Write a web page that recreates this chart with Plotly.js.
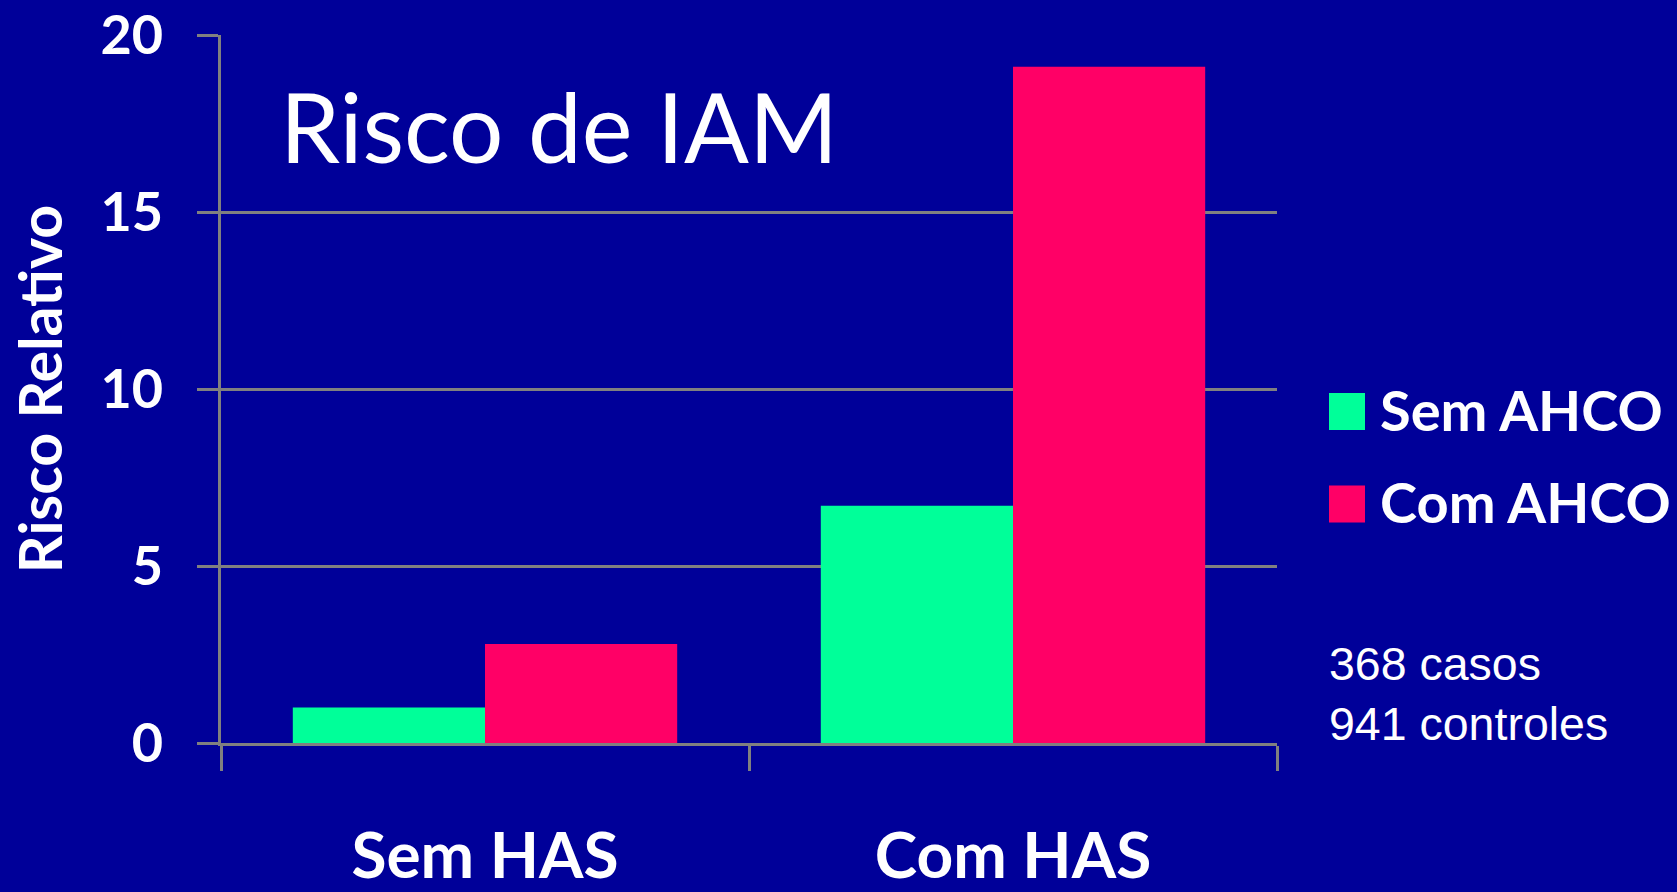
<!DOCTYPE html>
<html>
<head>
<meta charset="utf-8">
<script src="https://cdn.plot.ly/plotly-3.0.1.min.js"></script>
<style>
  html, body { margin: 0; padding: 0; background: #000099; }
  #chart { width: 1677px; height: 892px; }
</style>
</head>
<body>
<div id="chart"></div>
<script>
// ---- data ----
const categories = ['Sem HAS', 'Com HAS'];
const seriesNames = ['Sem AHCO', 'Com AHCO'];
const semAHCO = [1.0, 6.7];
const comAHCO = [2.8, 19.1];
const yTickValues = [0, 5, 10, 15, 20];
const chartTitle = 'Risco de IAM';
const yTitle = 'Risco Relativo';
const noteLines = ['368 casos', '941 controles'];

// ---- style ----
const BG = '#000099';
const GREEN = '#00FF99';
const PINK = '#FF0066';
const GRID = '#808080';
const LW = 3;
const seriesColors = [GREEN, PINK];

const traces = [
  {
    type: 'bar', name: seriesNames[0], x: categories, y: semAHCO,
    marker: { color: seriesColors[0], line: { width: 0 } },
    showlegend: false, hoverinfo: 'x+y'
  },
  {
    type: 'bar', name: seriesNames[1], x: categories, y: comAHCO,
    marker: { color: seriesColors[1], line: { width: 0 } },
    showlegend: false, hoverinfo: 'x+y'
  }
];

// plot area in px
const L = 221, R = 1277, T = 35, B = 743;
const W = R - L, H = B - T;
const px = x => (x - L) / W;
const py = y => (B - y) / H;

const shapes = [];
const annotations = [];

// title
annotations.push({
  text: chartTitle, xref: 'paper', yref: 'paper',
  x: px(278), y: py(66), xanchor: 'left', yanchor: 'top', showarrow: false,
  font: { family: 'Lato', size: 96, color: '#FFFFFF' }
});

// legend (manual, large swatches)
const legendRows = [411.5, 504];
seriesNames.forEach((name, i) => {
  const cy = legendRows[i];
  shapes.push({
    type: 'rect', xref: 'paper', yref: 'paper',
    x0: px(1329), x1: px(1365), y0: py(cy - 18.5), y1: py(cy + 18.5),
    fillcolor: seriesColors[i], line: { width: 0 }
  });
  annotations.push({
    text: '<b>' + name + '</b>', xref: 'paper', yref: 'paper',
    x: px(1378), y: py(cy - 2), xanchor: 'left', yanchor: 'middle', showarrow: false,
    font: { family: 'Lato', size: 56, color: '#FFFFFF' }
  });
});

// note
annotations.push({
  text: noteLines.join('<br>'), xref: 'paper', yref: 'paper',
  x: px(1327), y: py(636), xanchor: 'left', yanchor: 'top', align: 'left', showarrow: false,
  font: { family: 'Liberation Sans', size: 46.5, color: '#FFFFFF' }
});

const layout = {
  width: 1677, height: 892,
  paper_bgcolor: BG, plot_bgcolor: BG,
  margin: { l: L, r: 1677 - R, t: T, b: 892 - B, pad: 0 },
  barmode: 'group', bargap: 0.272, bargroupgap: 0,
  showlegend: false,
  xaxis: {
    type: 'category', range: [-0.5, 1.5], fixedrange: true,
    showgrid: false, zeroline: false,
    showline: true, linecolor: GRID, linewidth: LW,
    tickson: 'boundaries',
    ticks: 'outside', ticklen: 25, tickwidth: LW, tickcolor: GRID,
    ticklabelstandoff: 55,
    tickfont: { family: 'Lato', size: 64, color: '#FFFFFF', weight: 'bold' }
  },
  yaxis: {
    range: [0, 20], fixedrange: true,
    tickmode: 'array', tickvals: yTickValues,
    showgrid: true, gridcolor: GRID, gridwidth: LW,
    zeroline: false,
    showline: true, linecolor: GRID, linewidth: LW,
    ticks: 'outside', ticklen: 21, tickwidth: LW, tickcolor: GRID,
    ticklabelstandoff: 23,
    tickfont: { family: 'Lato', size: 54, color: '#FFFFFF', weight: 'bold' },
    title: {
      text: '<b>' + yTitle + '</b>', standoff: 19,
      font: { family: 'Lato', size: 59, color: '#FFFFFF' }
    }
  },
  shapes: shapes,
  annotations: annotations
};

Plotly.newPlot('chart', traces, layout, { displayModeBar: false, staticPlot: true });
</script>
</body>
</html>
